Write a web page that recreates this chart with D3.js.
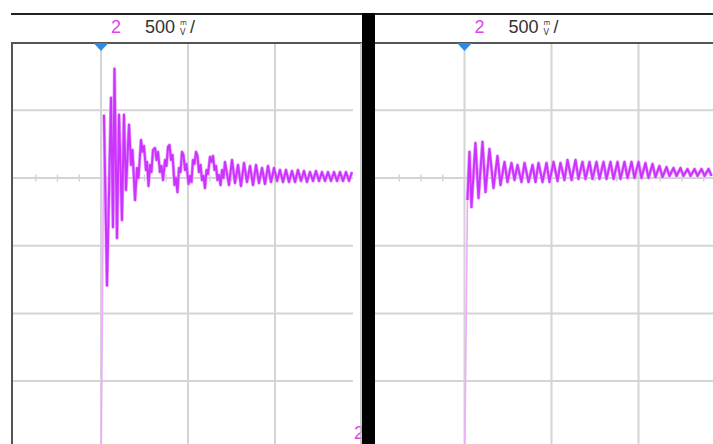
<!DOCTYPE html>
<html><head><meta charset="utf-8">
<script src="https://cdn.jsdelivr.net/npm/d3@7/dist/d3.min.js"></script>
<style>html,body{margin:0;padding:0;background:#fff;overflow:hidden}</style>
</head>
<body><svg id="c" width="713" height="444"></svg>
<script>
// ---- data (time in µs, 10 µs/div; voltage in mV, 500 mV/div) ----
const leftTime = [0,0.34,0.69,1.15,1.38,1.55,1.84,2.07,2.41,2.64,2.87,
  3.22,3.45,3.62,3.91,4.14,4.31,4.60,4.77,4.94,5.17,5.29,5.46,5.63,5.80,5.98,6.21,6.38,6.55,6.78,6.95,7.13,7.36,7.53,7.70,7.87,8.05,8.22,8.45,8.62,8.79,8.97,9.14,9.31,9.48,9.66,9.83,10.06,10.23,10.40,10.57,10.75,10.92,11.09,11.26,11.44,11.61,11.78,11.95,12.13,12.30,12.53,12.70,12.87,13.05,13.22,13.39,13.56,13.74,13.91,14.08,14.25,
  14.71,15.06,15.40,15.75,16.09,16.44,16.78,17.13,17.47,17.82,18.16,18.51,18.85,19.20,19.54,19.89,20.23,20.57,20.92,21.26,21.61,21.95,22.30,22.64,22.99,23.33,23.68,24.02,24.37,24.71,25.06,25.40,25.75,26.09,26.44,26.78,27.13,27.47,27.82,28.16,28.51,28.85];
const leftMV = [-2237,467,-793,593,-363,807,-444,467,-311,467,-89,
  393,96,207,-163,74,0,281,193,237,59,119,-59,96,44,207,222,133,193,44,89,-15,133,89,230,244,133,170,-52,0,-104,74,44,193,170,59,104,-44,15,-30,133,104,193,163,44,96,-15,15,-74,59,30,156,119,163,59,89,-15,22,-52,59,0,119,
  -52,133,-37,96,-59,111,-30,89,-52,96,-37,74,-44,89,-30,74,-22,59,-30,59,-30,52,-30,59,-22,52,-30,44,-22,52,-22,44,-22,44,-22,44,-22,44,-22,44,-22,44];
const rightTime = [0,0.34,0.57,0.80,1.26,1.61,2.07,2.41,2.87,3.33,3.79,4.14,4.60,4.94,5.40,5.75,6.09,6.55,6.90,7.36,7.82,8.16,8.51,8.97,9.43,9.77,10.23,10.69,11.03,11.49,11.84,12.30,12.76,13.10,13.56,13.91,14.37,14.71,15.17,15.52,15.98,16.32,16.78,17.13,17.59,17.93,18.39,18.74,19.20,19.54,20.00,20.34,20.80,21.15,21.61,21.95,22.41,22.76,23.22,23.56,24.02,24.37,24.83,25.17,25.63,25.98,26.44,26.78,27.24,27.59,28.05,28.39];
const rightMV = [-2237,-163,193,-215,259,-148,267,-104,215,-74,163,-52,119,-30,111,-15,96,-30,111,-30,96,-30,111,-30,111,-30,119,-22,111,-15,133,-15,133,-7,119,-7,119,-7,119,-7,119,-7,119,-7,119,-7,119,0,119,0,119,0,111,0,104,7,89,7,81,15,74,15,74,15,67,15,67,15,67,15,67,15];
const timeGrid = [-10, 0, 10, 20, 30];
const voltGrid = [1000, 500, 0, -500, -1000, -1500, -2000];
const minorTicks = [-7.5, -5, -2.5, 2.5, 5, 7.5, 12.5, 15, 17.5, 22.5, 25, 27.5, 32.5];
const channelLabel = "2";
const scaleValue = "500";
const unitTop = "m", unitBottom = "V";

// ---- layout ----
const svg = d3.select("#c");
const headerTop = 14, headerBottom = 43, bottom = 444;
const panels = [
  {time: leftTime, mv: leftMV, x0: 12, x1: 353, origin: 101, id: "L"},
  {time: rightTime, mv: rightMV, x0: 375, x1: 713, origin: 464.5, id: "R"}
];
const y = d3.scaleLinear().domain([0, 500]).range([178, 110.3]);
const traceColor = "#cc33ff", edgeColor = "#efaaff", gridColor = "#d4d4d4";

panels.forEach(p => {
  const x = d3.scaleLinear().domain([0, 10]).range([p.origin, p.origin + 87]);
  const g = svg.append("g");
  g.append("clipPath").attr("id", "clip" + p.id)
    .append("rect").attr("x", p.x0).attr("y", headerBottom).attr("width", p.x1 - p.x0).attr("height", bottom - headerBottom);

  g.selectAll(".hg").data(voltGrid.filter(v => v < 1000)).enter().append("line")
    .attr("x1", p.x0).attr("x2", p.x1).attr("y1", d => y(d)).attr("y2", d => y(d))
    .attr("stroke", gridColor).attr("stroke-width", 2);
  g.selectAll(".vg").data(timeGrid.filter(t => x(t) > p.x0 + 3 && x(t) < p.x1)).enter().append("line")
    .attr("x1", d => x(d)).attr("x2", d => x(d)).attr("y1", headerBottom).attr("y2", bottom)
    .attr("stroke", gridColor).attr("stroke-width", 2);
  g.selectAll(".mt").data(minorTicks.filter(t => x(t) > p.x0 + 3 && x(t) < p.x1)).enter().append("line")
    .attr("x1", d => x(d)).attr("x2", d => x(d)).attr("y1", y(0) - 3.5).attr("y2", y(0) + 3.5)
    .attr("stroke", gridColor).attr("stroke-width", 1.5);

  const pts = p.time.map((t, i) => [x(t), y(p.mv[i])]);
  const line = d3.line();
  const tg = g.append("g").attr("clip-path", `url(#clip${p.id})`);
  tg.append("path").attr("d", line(pts.slice(0, 2))).attr("fill", "none")
    .attr("stroke", edgeColor).attr("stroke-width", 1.6);
  tg.append("path").attr("d", line(pts.slice(1))).attr("fill", "none")
    .attr("stroke", "#e7a3ff").attr("stroke-width", 3.4).attr("stroke-linejoin", "round");
  tg.append("path").attr("d", line(pts.slice(1))).attr("fill", "none")
    .attr("stroke", traceColor).attr("stroke-width", 2).attr("stroke-linejoin", "round");

  g.append("line").attr("x1", p.x0 - 1).attr("x2", p.id === "L" ? 362 : 713)
    .attr("y1", headerTop).attr("y2", headerTop).attr("stroke", "#222").attr("stroke-width", 2);
  g.append("line").attr("x1", p.x0 - 1).attr("x2", p.id === "L" ? 362 : 713)
    .attr("y1", headerBottom).attr("y2", headerBottom).attr("stroke", "#555").attr("stroke-width", 2);
  const tx = x(0);
  g.append("text").attr("x", tx + 10).attr("y", 33).text(channelLabel)
    .attr("font-family", "Liberation Sans, Arial, sans-serif").attr("font-size", 18).attr("fill", "#dd44ee");
  g.append("text").attr("x", tx + 44).attr("y", 33).text(scaleValue)
    .attr("font-family", "Liberation Sans, Arial, sans-serif").attr("font-size", 18).attr("fill", "#333");
  g.append("text").attr("x", tx + 79).attr("y", 25).text(unitTop)
    .attr("font-family", "DejaVu Sans, sans-serif").attr("font-size", 7).attr("fill", "#333");
  g.append("text").attr("x", tx + 79).attr("y", 34.5).text(unitBottom)
    .attr("font-family", "DejaVu Sans, sans-serif").attr("font-size", 8).attr("fill", "#333");
  g.append("text").attr("x", tx + 89).attr("y", 33).text("/")
    .attr("font-family", "Liberation Sans, Arial, sans-serif").attr("font-size", 18).attr("fill", "#333");
  g.append("path").attr("d", `M${tx - 7.5},${headerBottom} L${tx + 7.5},${headerBottom} L${tx},${headerBottom + 8} Z`)
    .attr("fill", "#2b8be6");
});

svg.append("line").attr("x1", 12).attr("x2", 12).attr("y1", headerBottom).attr("y2", bottom)
  .attr("stroke", "#555").attr("stroke-width", 2);
svg.append("text").attr("x", 354).attr("y", 439).text(channelLabel)
  .attr("font-family", "Liberation Sans, Arial, sans-serif").attr("font-size", 18).attr("fill", "#dd44ee");
svg.append("line").attr("x1", 361).attr("x2", 361).attr("y1", headerBottom).attr("y2", bottom)
  .attr("stroke", "#bbb").attr("stroke-width", 1.5);
svg.append("rect").attr("x", 362).attr("y", headerTop - 1).attr("width", 13).attr("height", bottom - headerTop + 1).attr("fill", "#000");
</script>
</body></html>
